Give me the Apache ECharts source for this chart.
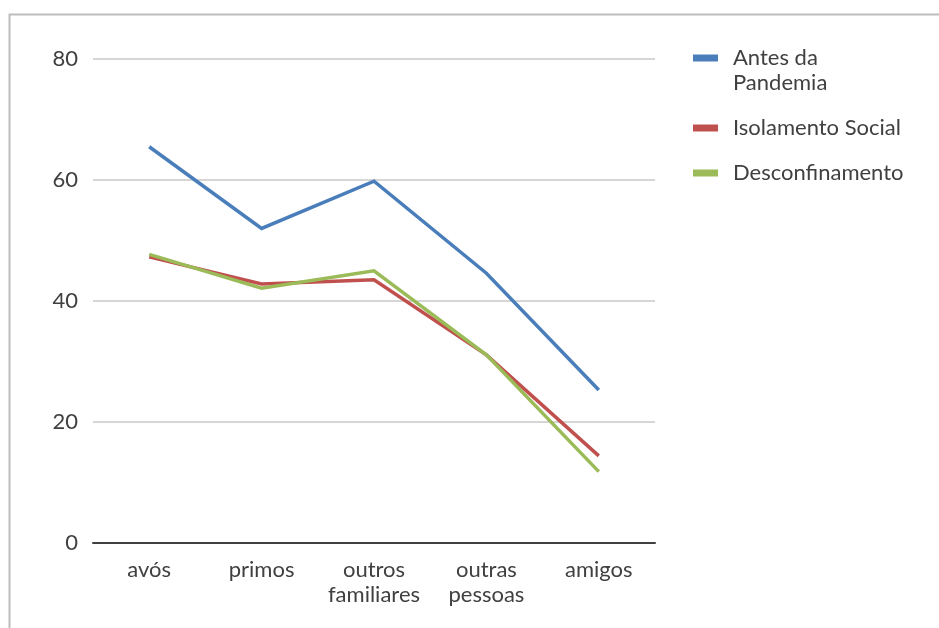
<!DOCTYPE html>
<html>
<head>
<meta charset="utf-8">
<script src="https://cdn.jsdelivr.net/npm/echarts@6/dist/echarts.min.js"></script>
<style>
  html, body { margin: 0; padding: 0; background: #fff; }
  #chart { width: 939px; height: 628px; }
</style>
</head>
<body>
<div id="chart"></div>
<script>
// Categories on the x axis
const categories = ['avós', 'primos', 'outros\nfamiliares', 'outras\npessoas', 'amigos'];

// Series values
const antesDaPandemia = [65.5, 52.0, 59.8, 44.6, 25.3];
const isolamentoSocial = [47.3, 42.8, 43.5, 31.1, 14.4];
const desconfinamento = [47.7, 42.1, 45.0, 31.1, 11.8];

// Series names and colours
const seriesNames = ['Antes da\nPandemia', 'Isolamento Social', 'Desconfinamento'];
const seriesColors = ['#4A7EBB', '#C0504D', '#9BBB59'];
const seriesData = [antesDaPandemia, isolamentoSocial, desconfinamento];

const FONT = 'Lato';
const TEXT_COLOR = '#404040';
const FONT_SIZE = 22;

const chart = echarts.init(document.getElementById('chart'), null, { renderer: 'canvas' });

// One legend block per series so each icon sits beside the first line of its label
function legendFor(i, top, extra) {
  return Object.assign({
    data: [seriesNames[i]],
    left: 693,
    top: top,
    padding: 0,
    orient: 'vertical',
    icon: 'rect',
    itemWidth: 25,
    itemHeight: 7,
    itemGap: 0,
    selectedMode: false,
    textStyle: {
      fontFamily: FONT,
      fontSize: FONT_SIZE,
      color: TEXT_COLOR,
      lineHeight: 25,
      padding: [0, 0, 0, 10]
    }
  }, extra || {});
}

chart.setOption({
  animation: false,
  backgroundColor: '#ffffff',
  graphic: [{
    type: 'rect',
    shape: { x: 9.5, y: 14.5, width: 1200, height: 1200 },
    style: { fill: 'none', stroke: '#BDBDBD', lineWidth: 2 },
    silent: true
  }],
  grid: { left: 93, right: 284, top: 59, bottom: 85, containLabel: false },
  legend: [
    // a blank leading line keeps the two-line label hanging below the icon
    legendFor(0, 20.5, { formatter: name => '\n' + name }),
    legendFor(1, 115.5),
    legendFor(2, 160.5)
  ],
  xAxis: {
    type: 'category',
    data: categories,
    boundaryGap: true,
    axisLine: { show: true, lineStyle: { color: '#404040', width: 2 } },
    axisTick: { show: false },
    axisLabel: {
      fontFamily: FONT,
      fontSize: FONT_SIZE,
      color: TEXT_COLOR,
      lineHeight: 25,
      margin: 14,
      interval: 0
    },
    splitLine: { show: false }
  },
  yAxis: {
    type: 'value',
    min: 0,
    max: 80,
    interval: 20,
    axisLine: { show: false },
    axisTick: { show: false },
    axisLabel: {
      fontFamily: FONT,
      fontSize: FONT_SIZE,
      color: TEXT_COLOR,
      margin: 15
    },
    splitLine: { show: true, lineStyle: { color: '#C8C8C8', width: 1.5 } }
  },
  series: seriesData.map((d, i) => ({
    name: seriesNames[i],
    type: 'line',
    data: d,
    symbol: 'none',
    smooth: false,
    color: seriesColors[i],
    lineStyle: { color: seriesColors[i], width: 3.5, join: 'miter' },
    z: 2 + i
  }))
});
</script>
</body>
</html>
